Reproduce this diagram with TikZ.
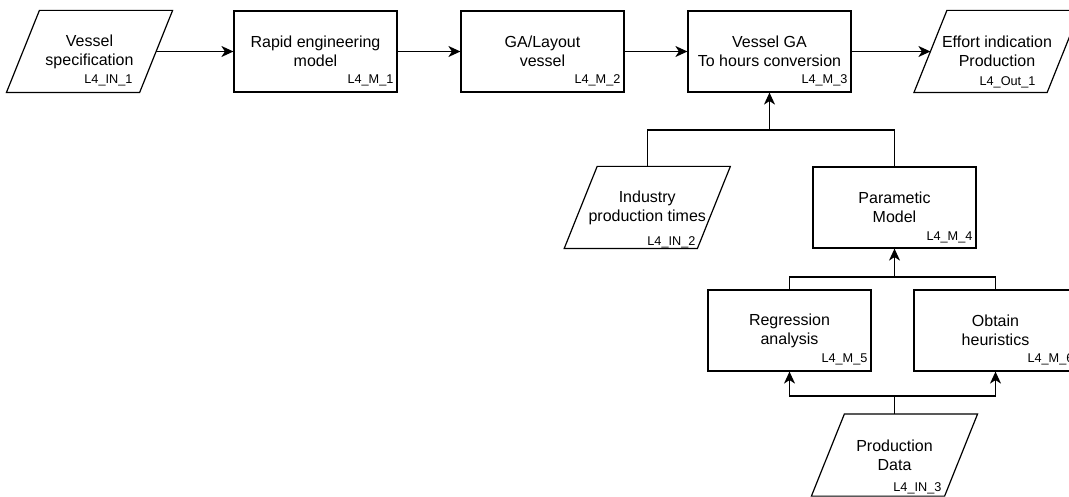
\documentclass[tikz,border=0pt]{standalone}
\usepackage{fontspec}
\setmainfont{Liberation Sans}
\usetikzlibrary{arrows.meta,calc}
\begin{document}
\begin{tikzpicture}[x=1pt,y=-1pt,
  line width=1.2pt,
  txt/.style={inner sep=0pt, align=center, font=\fontsize{16}{19.2}\selectfont},
  box/.style={txt, draw, minimum width=163pt, minimum height=81pt},
  io/.style={txt, minimum width=132pt, minimum height=81pt},
  tag/.style={font=\fontsize{12.7}{15}\selectfont, inner sep=0pt, anchor=east},
  flow/.style={-{Stealth[length=12pt,width=11pt,inset=3.5pt]}},
]
\useasboundingbox (0,0) rectangle (1069,497);
\clip (0,0) rectangle (1069,497);

% process boxes
\node[box] (rem) at (315.5,51.5) {Rapid engineering\\model};
\node[box] (ga)  at (542.5,51.5) {GA/Layout\\vessel};
\node[box] (vga) at (769.5,51.5) {Vessel GA\\To hours conversion};
\node[box] (par) at (894.5,207.5) {Parametic\\Model};
\node[box] (reg) at (789.5,330.5) {Regression\\analysis};
\node[box] (obt) at (995.5,330.5) {Obtain\\heuristics};

% data (input/output) shapes
\node[io] (spec) at (89.5,51.5) {Vessel\\specification};
\node[io] (eff)  at (997,51.5) {Effort indication\\Production};
\node[io] (ind)  at (647.25,207.5) {Industry\\production times};
\node[io] (pd)   at (894.5,455) {Production\\Data};
\foreach \n in {spec,eff,ind,pd}
  \draw ($(\n.south west)+(-16.5,0)$) -- ($(\n.south east)+(-16.5,0)$)
     -- ($(\n.north east)+(16.5,0)$) -- ($(\n.north west)+(16.5,0)$) -- cycle;

% identifiers
\node[tag] (specT) at (133,80)  {L4\_IN\_1};
\node[tag] (remT)  at (394,80)  {L4\_M\_1};
\node[tag] (gaT)   at (621,80)  {L4\_M\_2};
\node[tag] (vgaT)  at (848,80)  {L4\_M\_3};
\node[tag] (effT)  at (1036,82) {L4\_Out\_1};
\node[tag] (indT)  at (696,242) {L4\_IN\_2};
\node[tag] (parT)  at (973,237) {L4\_M\_4};
\node[tag] (regT)  at (868,359) {L4\_M\_5};
\node[tag] (obtT)  at (1074,359) {L4\_M\_6};
\node[tag] (pdT)   at (942,488) {L4\_IN\_3};

% main chain
\draw[flow] (spec.east) -- (rem.west);
\draw[flow] (rem.east) -- (ga.west);
\draw[flow] (ga.east) -- (vga.west);
\draw[flow] (vga.east) -- (eff.west);

% junctions
\coordinate (j1) at (769.5,130);
\coordinate (j2) at (894.5,277);
\coordinate (j3) at (894.5,396);

\draw (ind.north) |- (j1);
\draw (par.north) |- (j1);
\draw[flow] (j1) -- (vga.south);

\draw (reg.north) |- (j2);
\draw (obt.north) |- (j2);
\draw[flow] (j2) -- (par.south);

\draw (pd.north) -- (j3);
\draw[flow] (j3) -| (reg.south);
\draw[flow] (j3) -| (obt.south);
\end{tikzpicture}
\end{document}
